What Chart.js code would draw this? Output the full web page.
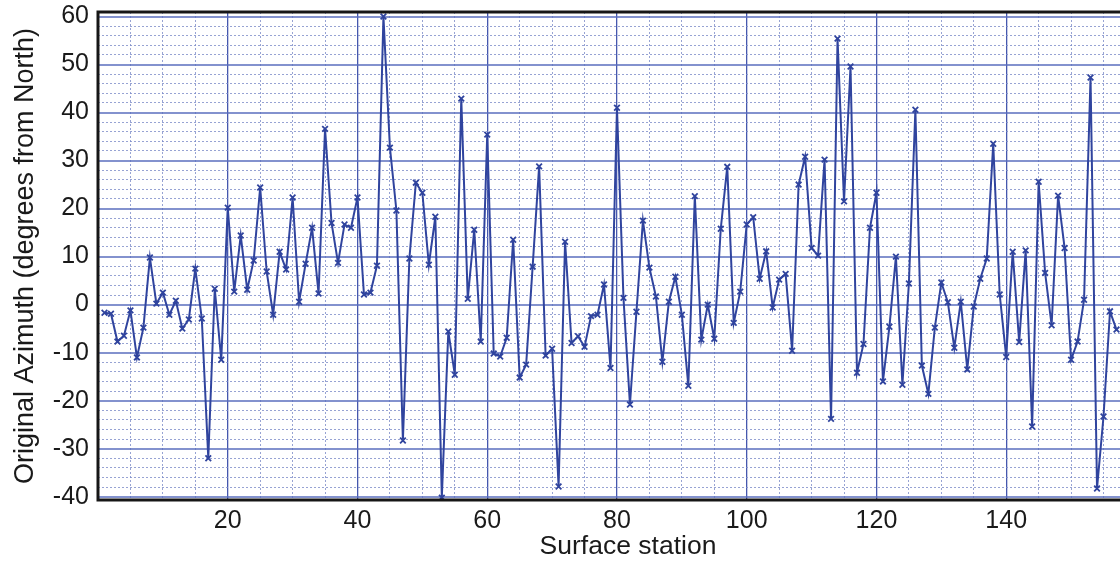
<!DOCTYPE html>
<html>
<head>
<meta charset="utf-8">
<script src="https://cdn.jsdelivr.net/npm/chart.js@4.4.1/dist/chart.umd.min.js"></script>
<style>
  html, body { margin: 0; padding: 0; background: #fff; overflow: hidden; }
  canvas { display: block; }
</style>
</head>
<body>
<!-- the original figure is cropped on the right, so the canvas runs past the window -->
<canvas id="chart" width="1158" height="564"></canvas>
<script>
// azimuth per surface station (station 1..157)
const azimuth = [
  -1.7, -1.9, -7.7, -6.5, -1.2, -11, -4.8, 9.8, 0.2, 2.5,
  -2.1, 0.8, -5, -3.1, 7.5, -2.9, -32, 3.3, -11.5, 20.2,
  2.7, 14.4, 3.1, 9.2, 24.4, 6.9, -2.1, 11, 7.3, 22.3,
  0.6, 8.5, 16, 2.3, 36.6, 17, 8.7, 16.7, 16, 22.3,
  2.1, 2.5, 8.1, 60, 32.7, 19.6, -28.3, 9.6, 25.4, 23.3,
  8.3, 18.3, -40.2, -5.6, -14.6, 42.9, 1.2, 15.6, -7.7, 35.4,
  -10.2, -10.8, -6.9, 13.5, -15.2, -12.5, 7.9, 28.8, -10.6, -9.2,
  -37.9, 13.1, -8, -6.6, -8.8, -2.4, -2.1, 4.2, -13.2, 41,
  1.4, -20.8, -1.5, 17.5, 7.7, 1.7, -11.9, 0.6, 5.8, -2.1,
  -16.9, 22.6, -7.3, 0, -7.1, 15.8, 28.7, -3.8, 2.7, 16.7,
  18.2, 5.4, 11.1, -0.6, 5.2, 6.4, -9.6, 25, 30.8, 11.8,
  10.2, 30.2, -23.8, 55.4, 21.5, 49.6, -14.2, -8.2, 16, 23.3,
  -16, -4.6, 10, -16.7, 4.4, 40.6, -12.7, -18.6, -4.8, 4.6,
  0.5, -9, 0.6, -13.5, -0.4, 5.4, 9.6, 33.5, 2.1, -10.9,
  11, -7.8, 11.3, -25.4, 25.6, 6.6, -4.3, 22.7, 11.8, -11.5,
  -7.7, 1, 47.3, -38.3, -23.3, -1.4, -5.2
];
const stations = azimuth.map((_, i) => i + 1);
const xTickLabels = [20, 40, 60, 80, 100, 120, 140];
const yTickLabels = [60, 50, 40, 30, 20, 10, 0, -10, -20, -30, -40];

const FONT = 'Liberation Sans, Arial, sans-serif';
const lineBlue = '#30449e';
const textColor = '#1a1a1a';

// black frame on left, top and bottom
const frame = {
  id: 'frame',
  afterDraw(chart) {
    const { ctx, chartArea: a } = chart;
    ctx.save();
    ctx.strokeStyle = '#161616';
    ctx.lineWidth = 3;
    ctx.beginPath();
    ctx.moveTo(a.right, a.top);
    ctx.lineTo(a.left, a.top);
    ctx.lineTo(a.left, a.bottom);
    ctx.lineTo(a.right, a.bottom);
    ctx.stroke();
    ctx.restore();
  }
};

const isMajorX = v => xTickLabels.includes(v);
const isMajorY = v => yTickLabels.includes(v);

new Chart(document.getElementById('chart'), {
  type: 'line',
  data: {
    datasets: [{
      data: azimuth.map((v, i) => ({ x: stations[i], y: v })),
      borderColor: lineBlue,
      backgroundColor: lineBlue,
      borderWidth: 2,
      tension: 0,
      pointStyle: 'crossRot',
      pointRadius: 4,
      pointBorderWidth: 1.8
    }]
  },
  options: {
    responsive: false,
    animation: false,
    devicePixelRatio: 1,
    layout: { autoPadding: false, padding: { top: 12, right: 0, left: 0, bottom: 0 } },
    plugins: {
      legend: { display: false },
      tooltip: { enabled: false }
    },
    scales: {
      x: {
        type: 'linear',
        min: 0,
        max: 163.4,
        afterFit: s => { s.height = 64; s.paddingLeft = 0; s.paddingRight = 0; },
        grid: {
          drawTicks: false,
          color: c => isMajorX(c.tick && c.tick.value) ? 'rgba(50,70,165,0.9)' : 'rgba(125,140,200,0.8)',
          lineWidth: c => isMajorX(c.tick && c.tick.value) ? 1.3 : 1
        },
        border: {
          display: false,
          dash: c => (c.tick && !isMajorX(c.tick.value)) ? [2, 2] : []
        },
        ticks: {
          stepSize: 5,
          autoSkip: false,
          includeBounds: false,
          maxTicksLimit: 1000,
          maxRotation: 0,
          padding: 6,
          color: textColor,
          font: { family: FONT, size: 25 },
          callback: v => isMajorX(v) ? String(v) : ''
        },
        title: {
          display: true,
          text: 'Surface station',
          color: textColor,
          font: { family: FONT, size: 26.5 },
          padding: { top: 0, bottom: 1 }
        }
      },
      y: {
        min: -40.7,
        max: 60.95,
        afterFit: s => { s.width = 98; s.paddingTop = 0; s.paddingBottom = 0; },
        grid: {
          drawTicks: false,
          color: c => isMajorY(c.tick && c.tick.value) ? 'rgba(90,110,190,0.75)' : 'rgba(125,140,200,0.8)',
          lineWidth: c => isMajorY(c.tick && c.tick.value) ? 2 : 1
        },
        border: {
          display: false,
          dash: c => (c.tick && !isMajorY(c.tick.value)) ? [2, 2] : []
        },
        ticks: {
          stepSize: 2,
          autoSkip: false,
          includeBounds: false,
          maxTicksLimit: 1000,
          padding: 9,
          color: textColor,
          font: { family: FONT, size: 25 },
          callback: v => isMajorY(v) ? String(v) : ''
        },
        title: {
          display: true,
          text: 'Original Azimuth (degrees from North)',
          color: textColor,
          font: { family: FONT, size: 27 },
          padding: { top: 9, bottom: 0 }
        }
      }
    }
  },
  plugins: [frame]
});
</script>
</body>
</html>
